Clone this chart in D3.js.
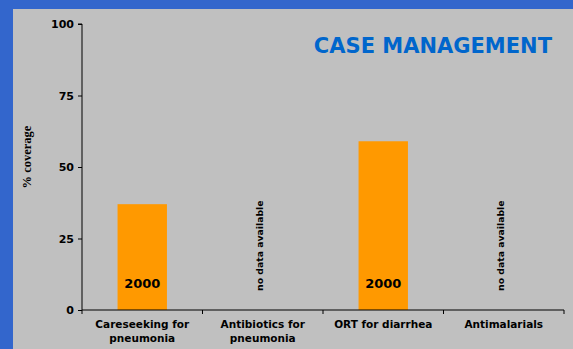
<!DOCTYPE html>
<html>
<head>
<meta charset="utf-8">
<script src="https://cdn.jsdelivr.net/npm/d3@7"></script>
<style>
  body { margin: 0; background: #c0c0c0; }
  svg { display: block; }
</style>
</head>
<body>
<svg id="chart"></svg>
<script>
// data
const categories = [["Careseeking for", "pneumonia"], ["Antibiotics for", "pneumonia"], ["ORT for diarrhea"], ["Antimalarials"]]
const coverage = [37, null, 59, null]
const barYears = ["2000", null, "2000", null]
const yTicks = [0, 25, 50, 75, 100]

const W = 573, H = 349
const margin = {top: 24, right: 9, bottom: 39, left: 82}
const width = W - margin.left - margin.right
const height = H - margin.top - margin.bottom

const svg = d3.select("#chart").attr("width", W).attr("height", H)

// page background + blue frame on top/left
svg.append("rect").attr("width", W).attr("height", H).attr("fill", "#c0c0c0")
svg.append("rect").attr("width", W).attr("height", 9).attr("fill", "#3366cc")
svg.append("rect").attr("width", 13).attr("height", H).attr("fill", "#3366cc")

const g = svg.append("g").attr("transform", `translate(${margin.left}, ${margin.top})`)

const xScale = d3.scaleBand()
  .domain(d3.range(categories.length))
  .range([0, width])
  .paddingInner(0.59)
  .paddingOuter(0.295)

const yScale = d3.scaleLinear().domain([0, 100]).range([height, 0])

// bars
g.selectAll("rect.bar")
  .data(coverage.map((v, i) => ({v, i})).filter(d => d.v != null))
  .enter()
  .append("rect")
  .attr("class", "bar")
  .attr("x", d => xScale(d.i))
  .attr("y", d => yScale(d.v))
  .attr("width", xScale.bandwidth())
  .attr("height", d => height - yScale(d.v))
  .attr("fill", "#ff9900")

// year labels inside bars
g.selectAll("text.year")
  .data(barYears.map((t, i) => ({t, i})).filter(d => d.t))
  .enter()
  .append("text")
  .attr("class", "year")
  .attr("x", d => xScale(d.i) + xScale.bandwidth() / 2)
  .attr("y", yScale(7.7))
  .attr("text-anchor", "middle")
  .style("font", "bold 13px 'DejaVu Sans', Verdana, sans-serif")
  .text(d => d.t)

// "no data available" notes
g.selectAll("text.nodata")
  .data(coverage.map((v, i) => ({v, i})).filter(d => d.v == null))
  .enter()
  .append("text")
  .attr("class", "nodata")
  .attr("transform", d => `translate(${xScale(d.i) + xScale.bandwidth() / 2}, ${yScale(22.5)}) rotate(-90)`)
  .attr("text-anchor", "middle")
  .style("font", "bold 9.3px 'DejaVu Sans', Verdana, sans-serif")
  .text("no data available")

// y axis
const yAxis = g.append("g")
  .call(d3.axisLeft(yScale).tickValues(yTicks).tickSize(4).tickPadding(4))
yAxis.select(".domain").attr("d", `M-4,0H0V${height}`).attr("stroke", "#000")
yAxis.selectAll("text")
  .style("font", "bold 11px 'DejaVu Sans', Verdana, sans-serif")
  .attr("fill", "#000")

// x axis, ticks on category boundaries
const xAxis = g.append("g").attr("transform", `translate(0, ${height})`)
xAxis.append("path")
  .attr("d", `M0,0H${width}`)
  .attr("stroke", "#000")
xAxis.selectAll("line.bound")
  .data(d3.range(categories.length + 1))
  .enter()
  .append("line")
  .attr("class", "bound")
  .attr("x1", i => i * width / categories.length)
  .attr("x2", i => i * width / categories.length)
  .attr("y1", 0).attr("y2", 4)
  .attr("stroke", "#000")

const catLabels = xAxis.selectAll("text.cat")
  .data(categories)
  .enter()
  .append("text")
  .attr("class", "cat")
  .attr("text-anchor", "middle")
  .attr("x", (d, i) => xScale(i) + xScale.bandwidth() / 2)
  .attr("y", 17.5)
  .style("font", "bold 10.5px 'DejaVu Sans', Verdana, sans-serif")
catLabels.selectAll("tspan")
  .data(d => d)
  .enter()
  .append("tspan")
  .attr("x", function () { return this.parentNode.getAttribute("x") })
  .attr("dy", (d, i) => i === 0 ? 0 : 14.5)
  .text(d => d)

// y axis title
svg.append("text")
  .attr("transform", `translate(31, 157) rotate(-90)`)
  .attr("text-anchor", "middle")
  .style("font", "bold 12.5px 'Liberation Serif', 'Times New Roman', serif")
  .text("% coverage")

// chart title
svg.append("text")
  .attr("x", 552)
  .attr("y", 53)
  .attr("text-anchor", "end")
  .attr("fill", "#0066cc")
  .style("font", "bold 21px 'DejaVu Sans', Verdana, sans-serif")
  .text("CASE MANAGEMENT")
</script>
</body>
</html>
